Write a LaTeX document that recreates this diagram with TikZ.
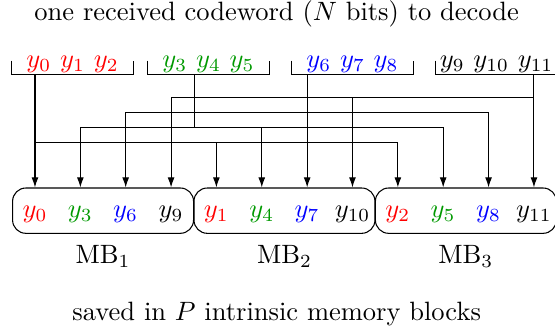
\documentclass[tikz,border=0pt]{standalone}
\usetikzlibrary{arrows.meta}
\colorlet{grpgreen}{green!60!black}
\begin{document}
\begin{tikzpicture}[>={Latex[length=3.8pt,width=2.6pt]},
  grp/.style={inner sep=0.7pt,minimum width=1.605cm,anchor=base},
  mbbox/.style={draw,rounded corners=5pt,minimum width=2.4cm,minimum height=0.601cm},
  slot/.style={anchor=base,inner sep=0pt}]
  \useasboundingbox (0,0) rectangle (7.361,4.417);
  \node[anchor=base] (title) at (3.67,4.145) {one received codeword ($N$ bits) to decode};
  % received codeword, in groups of three
  \node[grp,text=red] (g1) at (0.962,3.528) {$y_0$ $y_1$ $y_2$};
  \node[grp,text=grpgreen] (g2) at (2.765,3.528) {$y_3$ $y_4$ $y_5$};
  \node[grp,text=blue] (g3) at (4.675,3.528) {$y_6$ $y_7$ $y_8$};
  \node[grp] (g4) at (6.585,3.528) {$y_9$ $y_{10}$ $y_{11}$};
  \draw ([yshift=5.3pt]g1.south west) |- (g1.south) -| ([yshift=5.3pt]g1.south east);
  \draw ([yshift=5.3pt]g2.south west) |- (g2.south) -| ([yshift=5.3pt]g2.south east);
  \draw ([yshift=5.3pt]g3.south west) |- (g3.south) -| ([yshift=5.3pt]g3.south east);
  \draw ([yshift=5.3pt]g4.south west) |- (g4.south) -| ([yshift=5.3pt]g4.south east);
  % memory blocks
  \node[mbbox] (mb1) at (1.367,1.623) {};
  \node[mbbox] (mb2) at (3.773,1.623) {};
  \node[mbbox] (mb3) at (6.179,1.623) {};
  \node[slot,text=red] (s0) at (0.464,1.531) {$y_0$};
  \node[slot,text=grpgreen] (s1) at (1.066,1.531) {$y_3$};
  \node[slot,text=blue] (s2) at (1.667,1.531) {$y_6$};
  \node[slot] (s3) at (2.269,1.531) {$y_9$};
  \node[slot,text=red] (s4) at (2.870,1.531) {$y_1$};
  \node[slot,text=grpgreen] (s5) at (3.472,1.531) {$y_4$};
  \node[slot,text=blue] (s6) at (4.074,1.531) {$y_7$};
  \node[slot] (s7) at (4.675,1.531) {$y_{10}$};
  \node[slot,text=red] (s8) at (5.277,1.531) {$y_2$};
  \node[slot,text=grpgreen] (s9) at (5.878,1.531) {$y_5$};
  \node[slot,text=blue] (s10) at (6.480,1.531) {$y_8$};
  \node[slot] (s11) at (7.082,1.531) {$y_{11}$};
  \node[anchor=base] (l1) at (1.367,0.923) {MB$_1$};
  \node[anchor=base] (l2) at (3.773,0.923) {MB$_2$};
  \node[anchor=base] (l3) at (6.179,0.923) {MB$_3$};
  \node[anchor=base] (foot) at (3.67,0.172) {saved in $P$ intrinsic memory blocks};
  % bus levels
  \coordinate (bus1) at (0,2.533);
  \coordinate (bus2) at (0,2.732);
  \coordinate (bus3) at (0,2.931);
  \coordinate (bus4) at (0,3.130);
  % group 1
  \draw[->] (g1.south -| s0) -- (s0 |- mb1.north);
  \draw[->] (s0 |- bus1) -| (s8 |- mb3.north);
  \draw[->] (s4 |- bus1) -- (s4 |- mb2.north);
  % group 2
  \draw (g2.south -| mb1.east) -- (mb1.east |- bus2);
  \draw[<->] (s1 |- mb1.north) |- (bus2 -| s9) -- (s9 |- mb3.north);
  \draw[->] (s5 |- bus2) -- (s5 |- mb2.north);
  % group 3
  \draw[->] (g3.south -| s6) -- (s6 |- mb2.north);
  \draw[<->] (s2 |- mb1.north) |- (bus3 -| s10) -- (s10 |- mb3.north);
  % group 4
  \draw[->] (g4.south -| s11) -- (s11 |- mb3.north);
  \draw[->] (s11 |- bus4) -| (s3 |- mb1.north);
  \draw[->] (s7 |- bus4) -- (s7 |- mb2.north);
\end{tikzpicture}
\end{document}
